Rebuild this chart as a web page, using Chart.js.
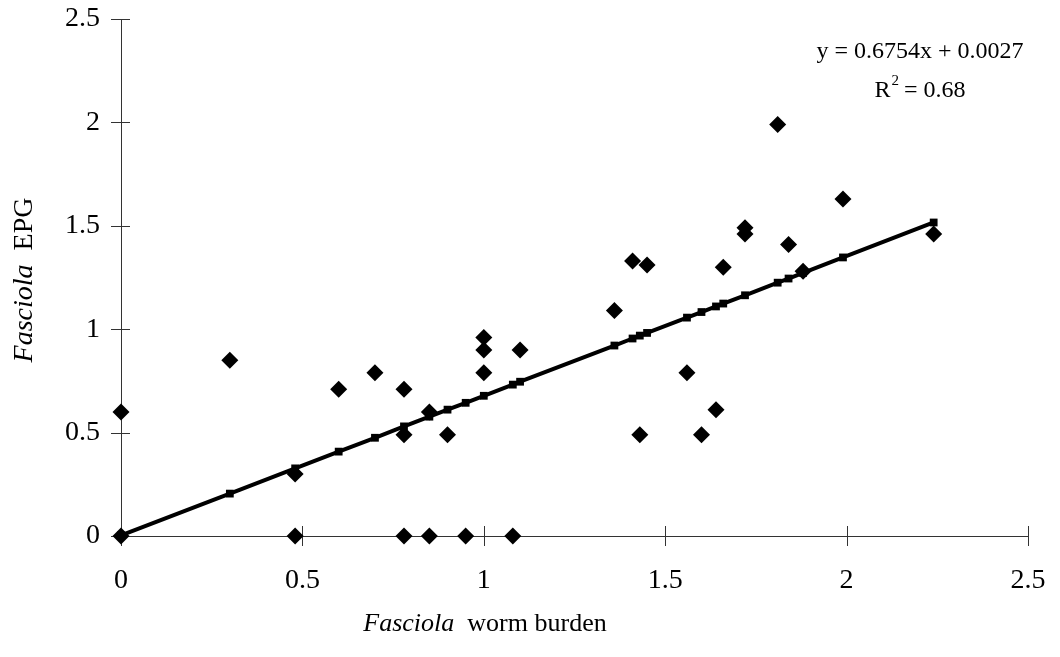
<!DOCTYPE html>
<html>
<head>
<meta charset="utf-8">
<script src="https://cdn.jsdelivr.net/npm/chart.js@4.4.1/dist/chart.umd.min.js"></script>
<style>
  html, body { margin: 0; padding: 0; background: #fff; }
  #wrap { width: 1060px; height: 657px; position: relative; }
</style>
</head>
<body>
<div id="wrap"><canvas id="c" width="1060" height="657"></canvas></div>
<script>
// Observed worm burden (x) and EPG (y), one entry per animal
const burden = [0, 0, 0.3, 0.48, 0.48, 0.6, 0.7, 0.78, 0.78, 0.78, 0.85, 0.85, 0.9, 0.95,
  1.0, 1.0, 1.0, 1.08, 1.1, 1.36, 1.41, 1.43, 1.45, 1.56, 1.6, 1.64, 1.66, 1.72, 1.72,
  1.81, 1.84, 1.88, 1.99, 2.24];
const epg = [0.6, 0, 0.85, 0.3, 0, 0.71, 0.79, 0.71, 0.49, 0, 0.6, 0, 0.49, 0,
  0.96, 0.9, 0.79, 0, 0.9, 1.09, 1.33, 0.49, 1.31, 0.79, 0.49, 0.61, 1.3, 1.49, 1.46,
  1.99, 1.41, 1.28, 1.63, 1.46];

// Fitted values of y = 0.6754x + 0.0027 at each distinct burden
const fitX = [0, 0.3, 0.48, 0.6, 0.7, 0.78, 0.85, 0.9, 0.95, 1.0, 1.08, 1.1, 1.36, 1.41,
  1.43, 1.45, 1.56, 1.6, 1.64, 1.66, 1.72, 1.81, 1.84, 1.88, 1.99, 2.24];
const fitY = [0.003, 0.205, 0.327, 0.408, 0.475, 0.530, 0.577, 0.611, 0.644, 0.678, 0.732,
  0.746, 0.921, 0.955, 0.969, 0.982, 1.056, 1.083, 1.110, 1.124, 1.164, 1.225, 1.245,
  1.272, 1.347, 1.516];

const tickValues = [0, 0.5, 1, 1.5, 2, 2.5];
const xTitleItalic = 'Fasciola';
const xTitleRest = '  worm burden';
const yTitleItalic = 'Fasciola';
const yTitleRest = '  EPG';
const eqLine = 'y = 0.6754x + 0.0027';
const r2Value = ' = 0.68';

const SERIF = '"Liberation Serif", "Times New Roman", serif';

const scatterPts = burden.map((x, i) => ({ x, y: epg[i] }));
const fitPts = fitX.map((x, i) => ({ x, y: fitY[i] }));

// Cross-style tick marks, axis titles and the regression annotation
const decor = {
  id: 'decor',
  beforeDatasetsDraw(chart) {
    const { ctx, scales: { x, y } } = chart;
    const x0 = x.getPixelForValue(0);
    const y0 = y.getPixelForValue(0);
    ctx.save();
    ctx.strokeStyle = '#333';
    ctx.lineWidth = 1;
    ctx.beginPath();
    tickValues.forEach(v => {
      const px = Math.round(x.getPixelForValue(v)) + 0.5;
      ctx.moveTo(px, y0 - 10); ctx.lineTo(px, y0 + 10);
      const py = Math.round(y.getPixelForValue(v)) + 0.5;
      ctx.moveTo(x0 - 10, py); ctx.lineTo(x0 + 9, py);
    });
    ctx.stroke();
    ctx.restore();
  },
  afterDraw(chart) {
    const { ctx } = chart;
    ctx.save();
    ctx.fillStyle = '#000';
    ctx.textBaseline = 'alphabetic';

    // x-axis title
    const fI = 'italic 26px ' + SERIF, fN = '26px ' + SERIF;
    ctx.font = fI; const w1 = ctx.measureText(xTitleItalic).width;
    ctx.font = fN; const w2 = ctx.measureText(xTitleRest).width;
    let sx = 485 - (w1 + w2) / 2;
    ctx.font = fI; ctx.fillText(xTitleItalic, sx, 631);
    ctx.font = fN; ctx.fillText(xTitleRest, sx + w1, 631);

    // y-axis title, rotated
    ctx.save();
    ctx.translate(32, 280);
    ctx.rotate(-Math.PI / 2);
    const gI = 'italic 28px ' + SERIF, gN = '28px ' + SERIF;
    ctx.font = gI; const v1 = ctx.measureText(yTitleItalic).width;
    ctx.font = gN; const v2 = ctx.measureText(yTitleRest).width;
    sx = -(v1 + v2) / 2;
    ctx.font = gI; ctx.fillText(yTitleItalic, sx, 0);
    ctx.font = gN; ctx.fillText(yTitleRest, sx + v1, 0);
    ctx.restore();

    // regression equation and R²
    ctx.font = '24px ' + SERIF;
    ctx.textAlign = 'center';
    ctx.fillText(eqLine, 920, 58);
    ctx.textAlign = 'left';
    const rW = ctx.measureText('R').width;
    const restW = ctx.measureText(r2Value).width;
    ctx.font = '15px ' + SERIF;
    const supW = ctx.measureText('2').width;
    const total = rW + supW + restW;
    const rx = 920 - total / 2;
    ctx.font = '24px ' + SERIF;
    ctx.fillText('R', rx, 97);
    ctx.font = '15px ' + SERIF;
    ctx.fillText('2', rx + rW + 1, 85);
    ctx.font = '24px ' + SERIF;
    ctx.fillText(r2Value, rx + rW + supW, 97);
    ctx.restore();
  }
};

new Chart(document.getElementById('c'), {
  type: 'scatter',
  data: {
    datasets: [
      {
        label: 'Observed',
        data: scatterPts,
        pointStyle: 'rectRot',
        pointRadius: 8.5,
        pointHoverRadius: 8.5,
        backgroundColor: '#000',
        borderColor: '#000',
        borderWidth: 0,
        clip: false,
        order: 1
      },
      {
        label: 'Linear fit',
        type: 'line',
        data: fitPts,
        showLine: true,
        borderColor: '#000',
        borderWidth: 4,
        pointStyle: 'rect',
        pointRadius: 5.5,
        pointHoverRadius: 5.5,
        backgroundColor: '#000',
        pointBorderWidth: 0,
        tension: 0,
        fill: false,
        clip: false,
        order: 2
      }
    ]
  },
  options: {
    responsive: false,
    animation: false,
    events: [],
    layout: { padding: { left: 0, right: 32, top: 19, bottom: 0 } },
    plugins: { legend: { display: false }, tooltip: { enabled: false } },
    scales: {
      x: {
        type: 'linear',
        min: 0, max: 2.5,
        afterFit: s => { s.height = 121; s.paddingLeft = 0; s.paddingRight = 0; },
        afterBuildTicks: s => { s.ticks = tickValues.map(v => ({ value: v })); },
        grid: { display: false, drawTicks: false },
        border: { display: true, color: '#333', width: 1 },
        ticks: {
          padding: 28,
          color: '#000',
          font: { family: SERIF, size: 28 },
          callback: v => String(v)
        }
      },
      y: {
        type: 'linear',
        min: 0, max: 2.5,
        afterFit: s => { s.width = 121; s.paddingTop = 0; s.paddingBottom = 0; },
        afterBuildTicks: s => { s.ticks = tickValues.map(v => ({ value: v })); },
        grid: { display: false, drawTicks: false },
        border: { display: true, color: '#333', width: 1 },
        ticks: {
          padding: 21,
          color: '#000',
          font: { family: SERIF, size: 28 },
          callback: v => String(v)
        }
      }
    }
  },
  plugins: [decor]
});
</script>
</body>
</html>
